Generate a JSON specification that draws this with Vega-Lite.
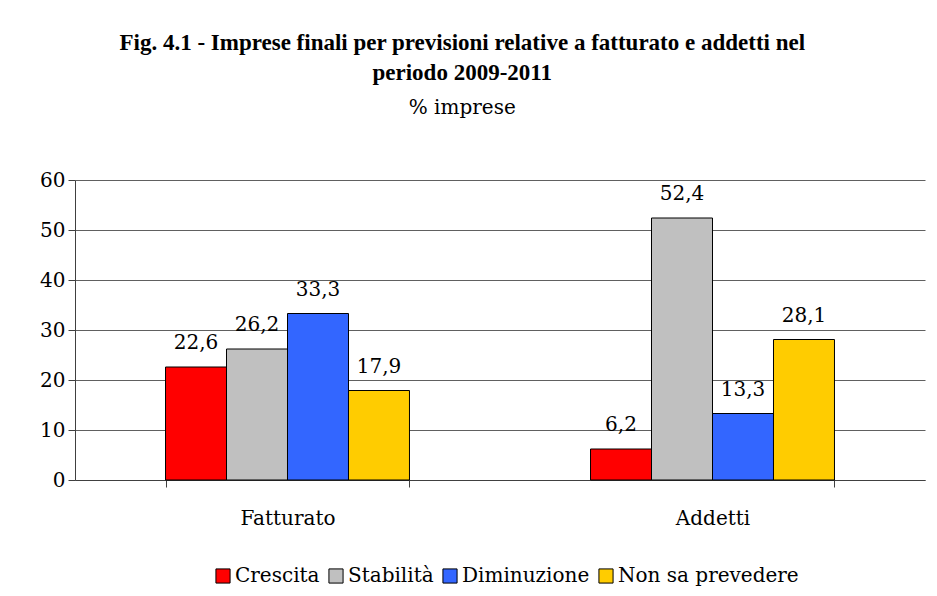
{
  "$schema": "https://vega.github.io/schema/vega-lite/v6.json",
  "width": 850,
  "height": 300,
  "padding": {"left": 39, "right": 12, "top": 32, "bottom": 8},
  "background": "white",
  "config": {
    "font": "DejaVu Serif",
    "view": {"stroke": null},
    "axis": {"labelFont": "DejaVu Serif"},
    "legend": {"labelFont": "DejaVu Serif"},
    "text": {"font": "DejaVu Serif"},
    "locale": {"number": {"decimal": ",", "thousands": ".", "grouping": [3], "currency": ["€", ""]}}
  },
  "title": {
    "text": ["Fig. 4.1 - Imprese finali per previsioni relative a fatturato e addetti nel", "periodo 2009-2011"],
    "subtitle": "% imprese",
    "font": "Liberation Serif",
    "fontSize": 23,
    "fontWeight": "bold",
    "lineHeight": 30,
    "subtitleFont": "DejaVu Serif",
    "subtitleFontSize": 20,
    "subtitleColor": "black",
    "subtitlePadding": 13,
    "color": "black",
    "anchor": "middle",
    "frame": "bounds",
    "dx": -20,
    "offset": 52
  },
  "data": {
    "values": [
      {"voce": "Fatturato", "previsione": "Crescita", "valore": 22.6},
      {"voce": "Fatturato", "previsione": "Stabilità", "valore": 26.2},
      {"voce": "Fatturato", "previsione": "Diminuzione", "valore": 33.3},
      {"voce": "Fatturato", "previsione": "Non sa prevedere", "valore": 17.9},
      {"voce": "Addetti", "previsione": "Crescita", "valore": 6.2},
      {"voce": "Addetti", "previsione": "Stabilità", "valore": 52.4},
      {"voce": "Addetti", "previsione": "Diminuzione", "valore": 13.3},
      {"voce": "Addetti", "previsione": "Non sa prevedere", "valore": 28.1}
    ]
  },
  "encoding": {
    "x": {
      "field": "voce",
      "type": "nominal",
      "sort": ["Fatturato", "Addetti"],
      "scale": {"paddingInner": 0.426, "paddingOuter": 0.213},
      "axis": {
        "title": null,
        "labelAngle": 0,
        "labelFontSize": 20,
        "labelColor": "black",
        "labelPadding": 21,
        "tickBand": "extent",
        "tickSize": 7,
        "tickColor": "#404040",
        "domainColor": "#404040",
        "grid": false
      }
    },
    "xOffset": {
      "field": "previsione",
      "type": "nominal",
      "sort": ["Crescita", "Stabilità", "Diminuzione", "Non sa prevedere"],
      "scale": {"paddingInner": 0, "paddingOuter": 0}
    },
    "y": {
      "field": "valore",
      "type": "quantitative",
      "scale": {"domain": [0, 60], "nice": false},
      "axis": {
        "title": null,
        "values": [0, 10, 20, 30, 40, 50, 60],
        "labelFontSize": 20,
        "labelColor": "black",
        "labelPadding": 3,
        "tickSize": 7,
        "tickColor": "#404040",
        "domainColor": "#404040",
        "gridColor": "#606060",
        "gridOpacity": 1,
        "format": "d"
      }
    }
  },
  "layer": [
    {
      "mark": {"type": "bar", "stroke": "black", "strokeWidth": 1},
      "encoding": {
        "color": {
          "field": "previsione",
          "type": "nominal",
          "sort": ["Crescita", "Stabilità", "Diminuzione", "Non sa prevedere"],
          "scale": {
            "domain": ["Crescita", "Stabilità", "Diminuzione", "Non sa prevedere"],
            "range": ["#FF0000", "#C0C0C0", "#3366FF", "#FFCC00"]
          },
          "legend": {
            "title": null,
            "orient": "none",
            "legendX": 138,
            "legendY": 386,
            "direction": "horizontal",
            "symbolType": "square",
            "symbolSize": 200,
            "symbolStrokeColor": "black",
            "symbolStrokeWidth": 1,
            "symbolOpacity": 1,
            "labelFontSize": 20,
            "labelColor": "black",
            "labelOffset": 2,
            "labelLimit": 0,
            "columnPadding": 6
          }
        }
      }
    },
    {
      "mark": {"type": "text", "baseline": "bottom", "dy": -14, "fontSize": 20, "color": "black"},
      "encoding": {
        "text": {"field": "valore", "type": "quantitative", "format": ".1f"}
      }
    }
  ]
}
